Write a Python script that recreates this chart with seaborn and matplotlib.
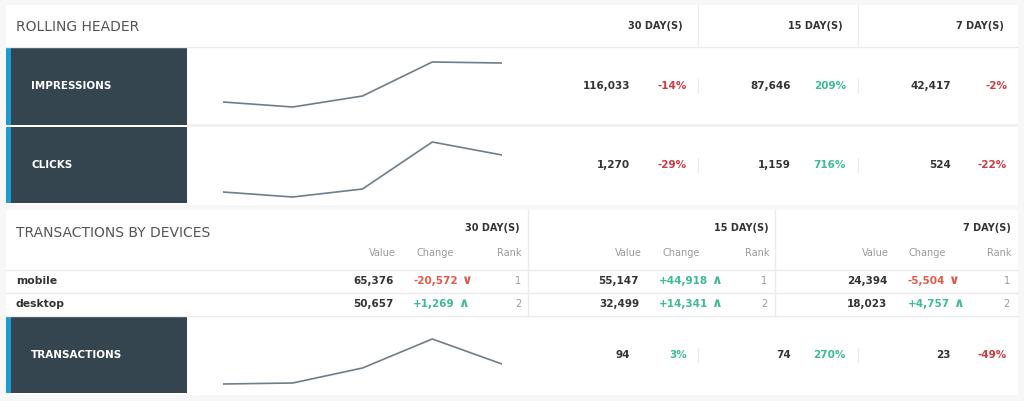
import matplotlib
matplotlib.use("Agg")
import matplotlib.pyplot as plt
import seaborn as sns
import pandas as pd
from matplotlib.patches import Rectangle
from matplotlib.lines import Line2D

sns.set_theme(style="white")
plt.rcParams['font.family'] = ['DejaVu Sans']

# ---------------- data ----------------
periods = ["30 DAY(S)", "15 DAY(S)", "7 DAY(S)"]
metrics = ["IMPRESSIONS", "CLICKS", "TRANSACTIONS"]
impressions_values = [116033, 87646, 42417]
impressions_change = [-14, 209, -2]
clicks_values = [1270, 1159, 524]
clicks_change = [-29, 716, -22]
transactions_values = [94, 74, 23]
transactions_change = [3, 270, -49]

trend_steps = [1, 2, 3, 4, 5]
impressions_trend = [23, 18, 29, 63, 62]
clicks_trend = [11, 6, 14, 61, 48]
transactions_trend = [9, 10, 25, 54, 29]

devices = ["mobile", "desktop"]
sub_headers = ["Value", "Change", "Rank"]
device_values_30 = [65376, 50657]
device_change_30 = [-20572, 1269]
device_rank_30 = [1, 2]
device_values_15 = [55147, 32499]
device_change_15 = [44918, 14341]
device_rank_15 = [1, 2]
device_values_7 = [24394, 18023]
device_change_7 = [-5504, 4757]
device_rank_7 = [1, 2]

# ---------------- style ----------------
W, H = 1024, 401
BG = "#f7f7f7"
DARK = "#34454f"
BLUE = "#1c9bd3"
RED = "#cc3a44"
RED2 = "#e0584a"
GREEN = "#3dbb92"
TXT = "#333333"
HEAD = "#555555"
LIGHT = "#9a9a9a"
LINE = "#ebebeb"
SPARK = "#6f7d87"

fig = plt.figure(figsize=(W / 100, H / 100), dpi=100, facecolor=BG)
bg = fig.add_axes([0, 0, 1, 1])
bg.set_xlim(0, W)
bg.set_ylim(H, 0)
bg.axis("off")
bg.set_facecolor(BG)


def rect(x, y, w, h, color, z=1):
    bg.add_patch(Rectangle((x, y), w, h, facecolor=color, edgecolor="none", zorder=z))


def hline(y, x0, x1, color=LINE, lw=1.0):
    bg.add_line(Line2D([x0, x1], [y, y], color=color, lw=lw, zorder=3))


def vline(x, y0, y1, color=LINE, lw=1.0):
    bg.add_line(Line2D([x, x], [y0, y1], color=color, lw=lw, zorder=3))


def txt(x, y, s, size=7.5, color=TXT, ha="left", weight="bold"):
    return bg.text(x, y, s, fontsize=size, color=color, ha=ha, va="center",
                   fontweight=weight, zorder=5)


def pct(v):
    return f"{v}%"


def spark(x0, y0, x1, y1, vals):
    ax = fig.add_axes([x0 / W, 1 - y1 / H, (x1 - x0) / W, (y1 - y0) / H])
    df = pd.DataFrame({"step": trend_steps, "value": vals})
    sns.lineplot(data=df, x="step", y="value", ax=ax, color=SPARK, linewidth=1.2)
    ax.set_xlim(trend_steps[0], trend_steps[-1])
    ax.set_ylim(0, y1 - y0)
    ax.axis("off")
    ax.patch.set_alpha(0)


# ---------------- panel 1 ----------------
rect(6, 5, 1012, 200, "white")
hline(46.5, 6, 1018)
vline(698, 5, 46)
vline(858, 5, 46)
txt(16, 27, "ROLLING HEADER", size=10, color=HEAD, weight="normal")
hdr_right = [683, 843, 1004]
for p, x in zip(periods, hdr_right):
    txt(x, 26, p, size=7, ha="right")

rows = [
    (47, 125, metrics[0], impressions_values, impressions_change, impressions_trend),
    (127, 203, metrics[1], clicks_values, clicks_change, clicks_trend),
]
val_right = [630, 791, 951]
chg_right = [687, 846, 1007]


def metric_row(y0, y1, name, vals, chg, trend):
    ym = (y0 + y1) / 2
    rect(6, y0, 181, y1 - y0, DARK, z=2)
    rect(6, y0, 5, y1 - y0, BLUE, z=2)
    txt(31, ym, name, size=7.5, color="white")
    spark(223, y0, 502, y1, trend)
    for v, c, xv, xc in zip(vals, chg, val_right, chg_right):
        txt(xv, ym, f"{v:,}", size=7.5, ha="right")
        txt(xc, ym, pct(c), size=7.5, color=GREEN if c >= 0 else RED, ha="right")
    vline(698, ym - 7, ym + 7)
    vline(858, ym - 7, ym + 7)


for r in rows:
    metric_row(*r)
rect(187, 124, 831, 3, "#f0f0f0", z=2)
rect(6, 125, 181, 1.5, "white", z=3)

# ---------------- panel 2 ----------------
rect(6, 210, 1012, 185, "white")
txt(16, 233, "TRANSACTIONS BY DEVICES", size=10, color=HEAD, weight="normal")
hdr2_right = [520, 769, 1011]
for p, x in zip(periods, hdr2_right):
    txt(x, 228, p, size=7, ha="right")
vline(528, 210, 316)
vline(775, 210, 316)

sub_value = [396, 642, 889]
sub_change = [435, 681, 927]
sub_rank = [522, 769, 1011]
for xv, xc, xr in zip(sub_value, sub_change, sub_rank):
    txt(xv, 253, sub_headers[0], size=7, color=LIGHT, ha="right", weight="normal")
    txt(xc, 253, sub_headers[1], size=7, color=LIGHT, ha="center", weight="normal")
    txt(xr, 253, sub_headers[2], size=7, color=LIGHT, ha="right", weight="normal")

hline(270, 6, 1018)
hline(293, 6, 1018)
hline(316, 6, 1018)

dev_val_right = [394, 639, 887]
dev_chg_left = [413, 659, 908]
dev_rank_right = [521, 767, 1010]
groups = [
    (device_values_30, device_change_30, device_rank_30),
    (device_values_15, device_change_15, device_rank_15),
    (device_values_7, device_change_7, device_rank_7),
]
row_y = [281, 304]
fig.canvas.draw()
renderer = fig.canvas.get_renderer()
for i, dev in enumerate(devices):
    y = row_y[i]
    txt(16, y, dev, size=7.8)
    for (vals, chg, rk), xv, xc, xr in zip(groups, dev_val_right, dev_chg_left, dev_rank_right):
        c = chg[i]
        col = GREEN if c >= 0 else RED2
        arrow = "∧" if c >= 0 else "∨"
        txt(xv, y, f"{vals[i]:,}", size=7.5, ha="right")
        t = txt(xc, y, f"{c:+,}", size=7.5, color=col)
        bb = t.get_window_extent(renderer)
        x_end = bb.x1  # pixel coords (origin bottom-left; x same)
        txt(x_end + 4, y - 0.5, arrow, size=9.5, color=col)
        txt(xr, y, str(rk[i]), size=7, color=LIGHT, weight="normal", ha="right")

metric_row(317, 393, metrics[2], transactions_values, transactions_change, transactions_trend)

fig.savefig("out.png", dpi=100, facecolor=BG)
